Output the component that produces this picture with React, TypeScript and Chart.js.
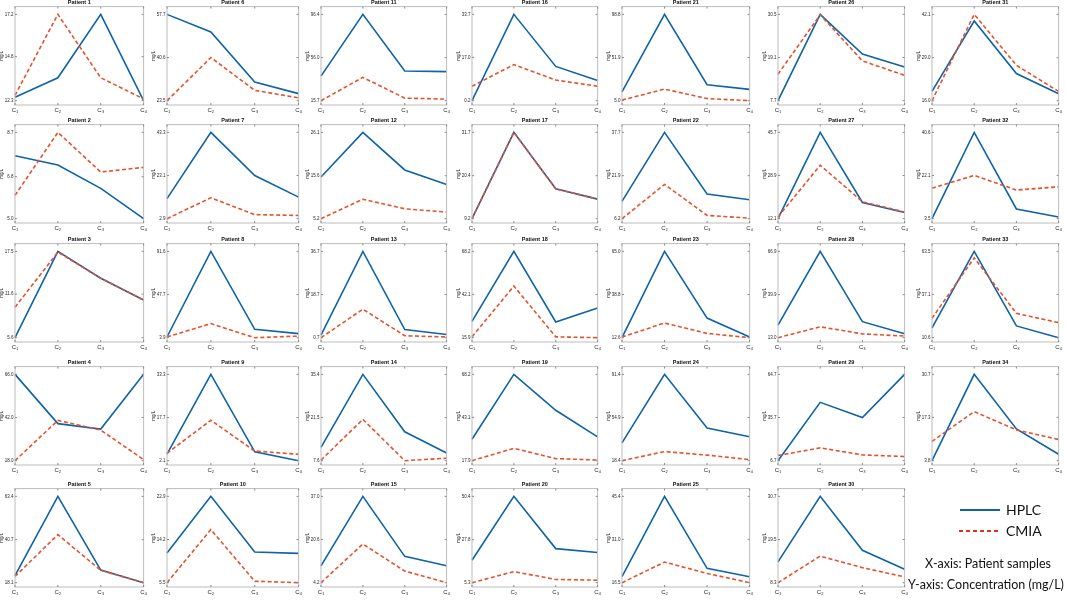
import React, { useEffect, useRef } from 'react';
import Chart from 'chart.js/auto';

// sample labels on every x axis
const samples = ['C\u2081', 'C\u2082', 'C\u2083', 'C\u2084'];

// HPLC concentration (mg/L), one row per patient 1..34
const hplc: number[][] = [
  [12.5, 13.6, 17.2, 12.3],
  [7.7, 7.3, 6.3, 5.0],
  [5.6, 17.5, 13.8, 10.8],
  [66.0, 38.6, 35.6, 66.0],
  [21.8, 63.4, 24.7, 18.1],
  [57.7, 50.7, 30.9, 26.3],
  [12.3, 43.3, 23.1, 13.0],
  [4.6, 91.6, 12.4, 8.0],
  [4.5, 33.3, 5.3, 2.1],
  [11.5, 22.9, 11.7, 11.4],
  [38.7, 96.4, 43.5, 42.9],
  [15.3, 26.1, 17.0, 13.5],
  [1.8, 36.7, 4.1, 2.0],
  [11.9, 35.4, 16.9, 10.1],
  [10.6, 37.0, 14.2, 10.6],
  [0.2, 33.7, 13.5, 8.0],
  [9.2, 31.7, 17.0, 14.3],
  [25.8, 68.2, 25.4, 33.9],
  [30.4, 68.2, 47.3, 31.8],
  [17.0, 50.4, 23.1, 21.1],
  [14.6, 98.8, 22.3, 17.3],
  [12.5, 37.7, 15.2, 13.1],
  [12.6, 65.0, 24.5, 13.0],
  [33.5, 91.4, 46.0, 38.6],
  [18.5, 45.4, 21.3, 18.5],
  [7.7, 30.5, 20.0, 16.6],
  [12.1, 45.7, 18.4, 14.5],
  [20.8, 66.9, 23.0, 15.4],
  [6.7, 45.9, 35.7, 64.7],
  [13.7, 30.7, 16.7, 11.8],
  [18.8, 40.1, 24.2, 18.1],
  [3.5, 40.6, 7.7, 4.2],
  [16.6, 63.5, 17.8, 10.6],
  [3.8, 30.7, 13.7, 5.8],
];

// CMIA concentration (mg/L)
const cmia: number[][] = [
  [12.6, 17.2, 13.6, 12.4],
  [6.0, 8.7, 7.0, 7.2],
  [9.8, 17.4, 13.8, 10.8],
  [18.0, 40.4, 35.0, 18.6],
  [21.4, 43.3, 24.6, 18.1],
  [23.5, 40.6, 27.6, 24.6],
  [2.9, 12.7, 4.8, 4.4],
  [4.6, 18.2, 3.9, 5.5],
  [4.8, 16.7, 5.6, 4.4],
  [5.5, 16.2, 5.8, 5.5],
  [15.7, 37.5, 18.1, 17.2],
  [5.2, 9.9, 7.6, 6.8],
  [0.7, 12.6, 1.5, 1.0],
  [7.8, 20.9, 7.6, 8.4],
  [4.2, 18.9, 8.6, 4.2],
  [5.8, 14.2, 8.2, 5.8],
  [9.2, 31.7, 17.0, 14.3],
  [16.4, 47.2, 16.4, 15.9],
  [17.9, 25.1, 19.1, 18.3],
  [5.3, 11.1, 7.0, 6.6],
  [5.7, 17.6, 7.3, 5.0],
  [6.2, 18.7, 7.4, 6.4],
  [13.0, 21.5, 15.2, 12.6],
  [18.4, 26.1, 23.1, 19.3],
  [16.5, 23.4, 19.6, 16.5],
  [14.7, 30.4, 18.2, 14.4],
  [12.8, 32.9, 18.7, 14.7],
  [13.0, 19.8, 15.4, 14.0],
  [10.2, 15.3, 10.6, 9.5],
  [8.3, 15.2, 12.2, 9.8],
  [16.0, 42.1, 26.7, 18.8],
  [16.6, 22.1, 15.8, 17.2],
  [22.5, 59.5, 25.5, 19.8],
  [9.8, 19.1, 13.4, 10.4],
];

// y tick labels (low, middle, high) per patient
const yTicks: number[][] = [
  [12.3, 14.8, 17.2],
  [5.0, 6.8, 8.7],
  [5.6, 11.6, 17.5],
  [18.0, 42.0, 66.0],
  [18.1, 40.7, 63.4],
  [23.5, 40.6, 57.7],
  [2.9, 23.1, 43.3],
  [3.9, 47.7, 91.6],
  [2.1, 17.7, 33.3],
  [5.5, 14.2, 22.9],
  [15.7, 56.0, 96.4],
  [5.2, 15.6, 26.1],
  [0.7, 18.7, 36.7],
  [7.6, 21.5, 35.4],
  [4.2, 20.6, 37.0],
  [0.2, 17.0, 33.7],
  [9.2, 20.4, 31.7],
  [15.9, 42.1, 68.2],
  [17.9, 43.1, 68.2],
  [5.3, 27.8, 50.4],
  [5.0, 51.9, 98.8],
  [6.2, 21.9, 37.7],
  [12.6, 38.8, 65.0],
  [18.4, 54.9, 91.4],
  [16.5, 31.0, 45.4],
  [7.7, 19.1, 30.5],
  [12.1, 28.9, 45.7],
  [13.0, 39.9, 66.9],
  [6.7, 35.7, 64.7],
  [8.3, 19.5, 30.7],
  [16.0, 29.0, 42.1],
  [3.5, 22.1, 40.6],
  [10.6, 37.1, 63.5],
  [3.8, 17.3, 30.7],
];

const BLUE = '#0f63a6';
const RED = '#e4532d';
const TXT = '#262626';

// panel grid (plot-area boxes, px)
const colLeft = [15, 167, 321, 472, 622, 778, 932];
const colWidth = [130, 133, 127, 127, 129, 128, 128];
const rowTop = [7, 125, 244, 367, 489];
const BOX_H = 98;
const AXIS_W = 16;
const TITLE_H = 9;
const XAXIS_H = 10;
const PAD_R = 4;

// MATLAB style box with inward ticks
const boxPlugin = {
  id: 'matlabBox',
  afterDraw(chart: any) {
    const { ctx, chartArea: a, scales } = chart;
    ctx.save();
    ctx.strokeStyle = '#bcbcbc';
    ctx.lineWidth = 1;
    ctx.strokeRect(a.left, a.top, a.right - a.left, a.bottom - a.top);
    ctx.strokeStyle = '#8c8c8c';
    ctx.beginPath();
    scales.y.ticks.forEach((t: any) => {
      const y = scales.y.getPixelForValue(t.value);
      ctx.moveTo(a.left, y);
      ctx.lineTo(a.left + 2, y);
      ctx.moveTo(a.right, y);
      ctx.lineTo(a.right - 2, y);
    });
    scales.x.ticks.forEach((_t: any, i: number) => {
      const x = scales.x.getPixelForTick(i);
      ctx.moveTo(x, a.bottom);
      ctx.lineTo(x, a.bottom - 2);
      ctx.moveTo(x, a.top);
      ctx.lineTo(x, a.top + 2);
    });
    ctx.stroke();
    ctx.restore();
  },
};

const Panel: React.FC<{ idx: number }> = ({ idx }) => {
  const chartRef = useRef<HTMLCanvasElement>(null);
  const col = Math.floor(idx / 5);
  const row = idx % 5;
  const w = AXIS_W + colWidth[col] + PAD_R;
  const h = TITLE_H + BOX_H + XAXIS_H;

  useEffect(() => {
    if (!chartRef.current) return;
    const ticks = yTicks[idx];
    const lo = ticks[0];
    const hi = ticks[2];
    const span = hi - lo;

    const chart = new Chart(chartRef.current, {
      type: 'line',
      data: {
        labels: samples,
        datasets: [
          {
            label: 'HPLC',
            data: hplc[idx],
            borderColor: BLUE,
            borderWidth: 1.6,
            pointRadius: 0,
            tension: 0,
            order: 2,
          },
          {
            label: 'CMIA',
            data: cmia[idx],
            borderColor: RED,
            borderWidth: 1.6,
            borderDash: [4, 2.5],
            pointRadius: 0,
            tension: 0,
            order: 1,
          },
        ],
      },
      options: {
        responsive: false,
        animation: false,
        events: [],
        layout: { padding: { left: 0, right: PAD_R, top: 0, bottom: 0 } },
        plugins: {
          legend: { display: false },
          tooltip: { enabled: false },
          title: {
            display: true,
            text: `Patient ${idx + 1}`,
            fullSize: false,
            color: '#111',
            font: { family: 'Liberation Sans, Arial', size: 5.5, weight: 'bold' },
            padding: { top: 1, bottom: 1 },
          },
        },
        scales: {
          x: {
            offset: false,
            grid: { display: false, drawTicks: false },
            border: { display: false },
            ticks: {
              color: TXT,
              font: { family: 'Liberation Sans, Arial', size: 6 },
              padding: 2,
              maxRotation: 0,
              autoSkip: false,
            },
            afterFit: (s: any) => {
              s.height = XAXIS_H;
            },
          },
          y: {
            min: lo - 0.05 * span,
            max: hi + 0.09 * span,
            grid: { display: false, drawTicks: false },
            border: { display: false },
            afterBuildTicks: (s: any) => {
              s.ticks = ticks.map((v) => ({ value: v }));
            },
            ticks: {
              color: TXT,
              font: { family: 'Liberation Sans, Arial', size: 4.5 },
              padding: 1.5,
              callback: (_v: any, i: number) => ticks[i].toFixed(1),
            },
            title: {
              display: true,
              text: 'mg/L',
              color: TXT,
              font: { family: 'Liberation Sans, Arial', size: 4.5 },
              padding: 0,
            },
            afterFit: (s: any) => {
              s.width = AXIS_W;
            },
          },
        },
      },
      plugins: [boxPlugin],
    });

    return () => {
      chart.destroy();
    };
  }, [idx]);

  return (
    <canvas
      ref={chartRef}
      width={w}
      height={h}
      style={{
        position: 'absolute',
        left: colLeft[col] - AXIS_W,
        top: rowTop[row] - TITLE_H,
        width: w,
        height: h,
      }}
    />
  );
};

const legendText: React.CSSProperties = {
  position: 'absolute',
  fontFamily: 'Lato, "Open Sans", sans-serif',
  fontSize: 12.5,
  lineHeight: '18px',
  color: '#111',
  whiteSpace: 'nowrap',
};

const App: React.FC = () => {
  return (
    <div
      style={{
        position: 'absolute',
        left: 0,
        top: 0,
        width: 1065,
        height: 600,
        background: '#fff',
        overflow: 'hidden',
      }}
    >
      {hplc.map((_d, i) => (
        <Panel key={i} idx={i} />
      ))}

      {/* legend */}
      <div style={{ position: 'absolute', left: 960, top: 509, width: 40, height: 2, background: BLUE }} />
      <div style={{ ...legendText, left: 1006, top: 501, fontSize: 14 }}>HPLC</div>
      <div
        style={{
          position: 'absolute',
          left: 959,
          top: 530,
          width: 41,
          height: 2,
          background: 'repeating-linear-gradient(to right, #e0301e 0 4px, transparent 4px 7px)',
        }}
      />
      <div style={{ ...legendText, left: 1006, top: 522, fontSize: 14 }}>CMIA</div>
      <div style={{ ...legendText, left: 900, width: 176, top: 555, textAlign: 'center' }}>
        X-axis: Patient samples
      </div>
      <div style={{ ...legendText, left: 898, width: 176, top: 576, textAlign: 'center' }}>
        Y-axis: Concentration (mg/L)
      </div>
    </div>
  );
};

export default App;
